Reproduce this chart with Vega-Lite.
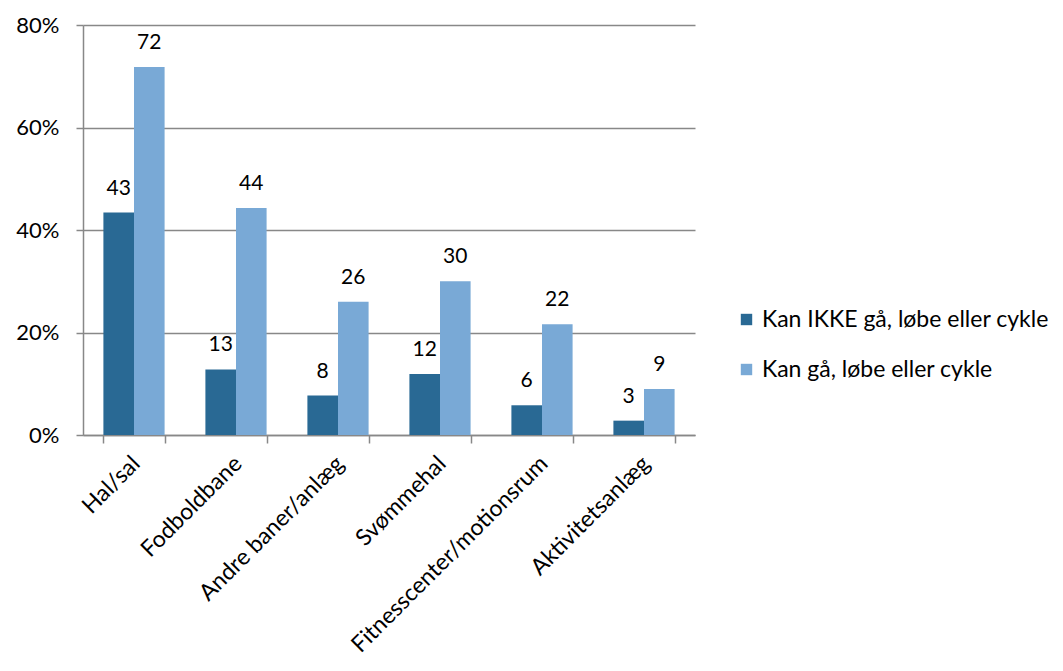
{
  "$schema": "https://vega.github.io/schema/vega-lite/v6.json",
  "width": 612,
  "height": 410,
  "autosize": {"type": "none"},
  "padding": {"left": 83, "top": 25, "right": 368, "bottom": 236},
  "background": "white",
  "config": {
    "font": "Lato",
    "view": {"stroke": null}
  },
  "data": {
    "values": [
      {"kategori": "Hal/sal", "gruppe": "Kan IKKE gå, løbe eller cykle", "andel": 43.4},
      {"kategori": "Hal/sal", "gruppe": "Kan gå, løbe eller cykle", "andel": 71.8},
      {"kategori": "Fodboldbane", "gruppe": "Kan IKKE gå, løbe eller cykle", "andel": 12.8},
      {"kategori": "Fodboldbane", "gruppe": "Kan gå, løbe eller cykle", "andel": 44.3},
      {"kategori": "Andre baner/anlæg", "gruppe": "Kan IKKE gå, løbe eller cykle", "andel": 7.7},
      {"kategori": "Andre baner/anlæg", "gruppe": "Kan gå, løbe eller cykle", "andel": 26.0},
      {"kategori": "Svømmehal", "gruppe": "Kan IKKE gå, løbe eller cykle", "andel": 11.9},
      {"kategori": "Svømmehal", "gruppe": "Kan gå, løbe eller cykle", "andel": 30.0},
      {"kategori": "Fitnesscenter/motionsrum", "gruppe": "Kan IKKE gå, løbe eller cykle", "andel": 5.8},
      {"kategori": "Fitnesscenter/motionsrum", "gruppe": "Kan gå, løbe eller cykle", "andel": 21.6},
      {"kategori": "Aktivitetsanlæg", "gruppe": "Kan IKKE gå, løbe eller cykle", "andel": 2.8},
      {"kategori": "Aktivitetsanlæg", "gruppe": "Kan gå, løbe eller cykle", "andel": 9.0}
    ]
  },
  "encoding": {
    "x": {
      "field": "kategori", "type": "nominal", "sort": null,
      "scale": {"paddingInner": 0.4, "paddingOuter": 0.2},
      "axis": {
        "title": null, "labelAngle": -45, "labelFontSize": 23, "labelColor": "#000",
        "labelPadding": 9, "labelOffset": -6, "labelLimit": 0, "tickBand": "extent", "tickSize": 8, "tickColor": "#888",
        "domainColor": "#888", "domainWidth": 1.5, "tickWidth": 1.5
      }
    },
    "xOffset": {"field": "gruppe", "type": "nominal", "sort": ["Kan IKKE gå, løbe eller cykle", "Kan gå, løbe eller cykle"]},
    "y": {
      "field": "andel", "type": "quantitative",
      "scale": {"domain": [0, 80], "nice": false},
      "axis": {
        "title": null, "values": [0, 20, 40, 60, 80], "labelExpr": "datum.value + '%'",
        "labelFontSize": 22, "labelColor": "#000", "labelPadding": 17,
        "tickSize": 7, "tickColor": "#888", "domainColor": "#888", "domainWidth": 1.5, "tickWidth": 1.5,
        "gridColor": "#888", "gridWidth": 1.5
      }
    }
  },
  "layer": [
    {
      "mark": {"type": "bar"},
      "encoding": {
        "color": {
          "field": "gruppe", "type": "nominal",
          "sort": ["Kan IKKE gå, løbe eller cykle", "Kan gå, løbe eller cykle"],
          "scale": {"range": ["#296994", "#79a9d6"]},
          "legend": {
            "title": null, "orient": "none", "legendX": 652, "legendY": 283,
            "symbolType": "square", "symbolSize": 130, "symbolStrokeWidth": 0,
            "labelFontSize": 23, "labelColor": "#000", "labelLimit": 0, "rowPadding": 26, "labelOffset": 4
          }
        }
      }
    },
    {
      "mark": {"type": "text", "baseline": "bottom", "dy": -14, "fontSize": 21, "color": "#000"},
      "encoding": {
        "text": {"field": "andel", "type": "quantitative", "format": ".0f"}
      }
    }
  ]
}
